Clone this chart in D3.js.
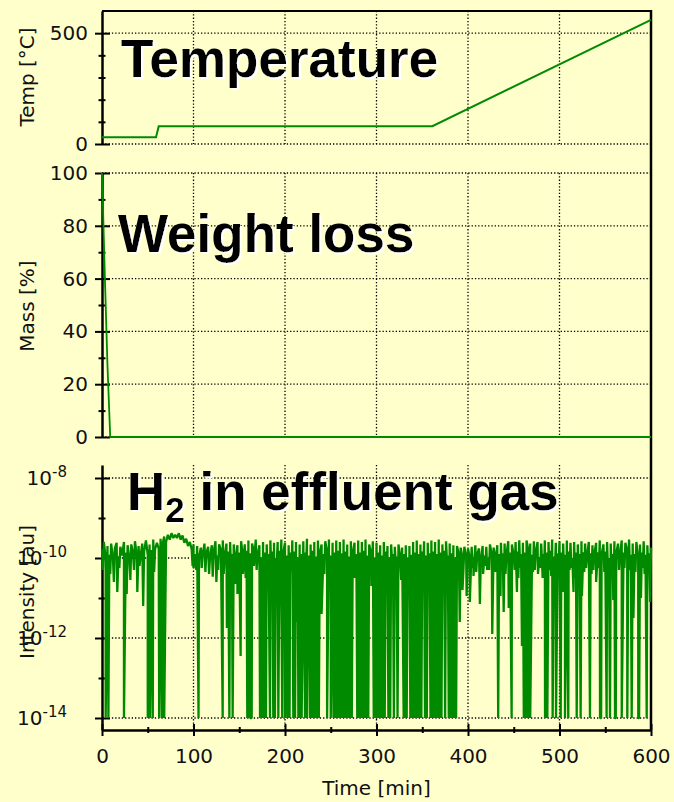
<!DOCTYPE html>
<html>
<head>
<meta charset="utf-8">
<script src="https://cdnjs.cloudflare.com/ajax/libs/d3/7.8.5/d3.min.js"></script>
<style>
  body { margin: 0; background: #ffffcc; }
  svg { display: block; font-family: "DejaVu Sans", sans-serif; }
  .grid line { stroke: #000; stroke-width: 1.3; stroke-dasharray: 1.3, 2; }
  .ax path { stroke: #000; stroke-width: 2.5; }
  .ax line { stroke: #000; stroke-width: 2; }
  .ax text { font-size: 20px; fill: #111; font-family: "DejaVu Sans", sans-serif; }
  .nodom path { display: none; }
  .lbl { font-size: 20px; fill: #111; }
  .title { font-family: "Liberation Sans", Arial, sans-serif; font-weight: bold; font-size: 53px; }
</style>
</head>
<body>
<div id="chart"></div>
<script>
// temperature program
var tempTime = [0, 59, 62, 361, 600];
var tempVal  = [30, 30, 80, 80, 560];

// weight loss
var massTime = [0, 1, 3, 6, 9, 600];
var massVal  = [100, 88, 62, 27, 0, 0];

// H2 signal, log10 of intensity, one value every 2 min from 0 to 600
var h2Base = [
 -9.78,-9.60,-9.98,-9.70,-9.92,-9.64,-10.02,-9.76,-9.62,-9.96,
 -9.72,-9.94,-9.60,-9.86,-9.68,-10.04,-9.66,-9.90,-9.58,-9.92,
 -9.70,-9.98,-9.64,-9.84,-9.56,-9.92,-9.66,-9.80,-9.54,-9.78,
 -9.62,-9.76,-9.52,-9.66,-9.46,-9.60,-9.42,-9.54,-9.38,-9.50,
 -9.42,-9.50,-9.38,-9.54,-9.44,-9.62,-9.52,-9.70,-9.60,-9.78,
 -9.66,-9.90,-9.70,-9.98,-9.74,-9.92,-9.64,-9.88,-9.72,-10.00,
 -9.68,-9.86,-9.58,-9.94,-9.66,-9.80,-9.56,-9.98,-9.64,-9.84,
 -9.60,-9.90,-9.66,-10.02,-9.68,-9.86,-9.58,-9.96,-9.66,-9.82,
 -9.56,-9.88,-9.64,-9.84,-9.54,-9.94,-9.68,-9.98,-9.60,-9.86,
 -9.66,-9.90,-9.56,-9.84,-9.62,-10.00,-9.60,-9.82,-9.54,-9.88,
 -9.62,-9.94,-9.68,-9.86,-9.56,-9.84,-9.60,-9.98,-9.66,-9.90,
 -9.58,-9.86,-9.52,-9.94,-9.66,-9.82,-9.60,-9.96,-9.56,-9.86,
 -9.66,-9.90,-9.58,-9.84,-9.54,-9.94,-9.62,-9.86,-9.56,-9.82,
 -9.60,-9.88,-9.54,-9.84,-9.66,-9.96,-9.58,-9.86,-9.62,-9.90,
 -9.56,-9.86,-9.60,-9.82,-9.54,-9.94,-9.66,-9.88,-9.58,-9.98,
 -9.62,-9.86,-9.68,-9.94,-9.60,-9.84,-9.70,-9.98,-9.66,-9.90,
 -9.72,-9.96,-9.66,-10.00,-9.74,-9.90,-9.68,-9.98,-9.70,-9.92,
 -9.60,-9.86,-9.56,-9.90,-9.66,-9.84,-9.58,-9.94,-9.62,-9.88,
 -9.56,-9.84,-9.60,-9.90,-9.54,-9.86,-9.66,-9.82,-9.58,-9.94,
 -9.64,-9.88,-9.68,-9.98,-9.70,-9.92,-9.74,-10.00,-9.72,-9.96,
 -9.76,-10.02,-9.72,-9.98,-9.68,-9.92,-9.76,-10.04,-9.70,-9.94,
 -9.72,-10.00,-9.66,-9.92,-9.74,-9.98,-9.68,-9.90,-9.62,-9.88,
 -9.64,-9.92,-9.58,-9.86,-9.66,-9.96,-9.60,-9.84,-9.56,-9.90,
 -9.62,-9.86,-9.56,-9.82,-9.64,-9.92,-9.58,-9.88,-9.60,-9.98,
 -9.64,-9.90,-9.56,-9.86,-9.60,-9.82,-9.54,-9.96,-9.62,-9.88,
 -9.58,-9.86,-9.64,-9.92,-9.56,-9.84,-9.62,-10.00,-9.60,-9.86,
 -9.66,-9.90,-9.58,-9.86,-9.64,-9.98,-9.60,-9.88,-9.68,-9.92,
 -9.62,-9.86,-9.56,-9.92,-9.66,-9.84,-9.60,-10.00,-9.64,-9.90,
 -9.58,-9.88,-9.64,-9.96,-9.56,-9.86,-9.62,-9.82,-9.54,-9.92,
 -9.64,-9.90,-9.60,-9.98,-9.66,-9.86,-9.58,-9.92,-9.68,-9.88,
 -9.74
];
// minutes where the signal falls to the 1e-14 floor
var h2Deep = [4, 7, 24, 50, 52.5, 55.5, 62.5, 65.5, 68, 105.5,
 131.9, 139.2, 142.8, 158.8, 160.5, 162, 163.6, 172.7, 175, 177, 179.2, 183.6, 187.2, 189, 192.7, 197,
 200, 202.6, 205, 209.1, 211, 214.6, 216, 218.2, 221.9, 224, 227.3, 229, 231, 233, 234.6, 237,
 246, 250, 253, 255, 257, 259, 261, 263, 265, 267, 269, 271, 273,
 279, 281, 283, 285, 287, 289, 291, 297, 299, 301, 303, 305, 307, 309,
 313, 315, 319, 323, 329.7, 331, 333, 337, 339, 341, 343, 345, 347, 349,
 353, 355, 359, 361, 363, 365, 367, 369, 371, 375, 379, 381, 383, 385, 387,
 433, 447.7, 461, 463.5, 466, 468,
 484.2, 486.7, 492.5, 496.2, 501.3, 506, 509.6, 518.8, 523.1, 533.3, 544.3, 545.5,
 551.5, 555.2, 560.7, 561.5, 568, 574.1, 578.9, 586.1, 587, 595.3];
// partial dips [minute, log10 intensity]
var h2Dips = [[13,-10.6],[16.7,-10.85],[27,-10.9],[31,-10.55],[38.6,-10.85],[45,-11.2],[100,-10.25],[117,-10.4],
 [121,-10.47],[125,-10.6],[136.5,-11.75],[145.5,-10.65],[148,-10.9],[151.5,-12.45],[154,-10.4],[166,-10.2],
 [176,-10.9],[190,-10.6],[196,-10.8],[205.5,-10.45],[212,-11.6],[225,-10.35],
 [240,-11.4],[243,-10.4],[248,-10.6],[276,-10.5],[294.5,-10.7],[311,-10.5],[317.5,-10.3],[321.5,-10.3],
 [327,-10.55],[335.7,-10.9],[351,-10.4],[357,-10.9],[373,-10.7],[377.5,-10.3],
 [391,-11.6],[394,-10.8],[398.5,-10.95],[402,-11.1],[406,-10.45],[413,-11.15],[416.5,-10.4],[421,-10.3],
 [426.5,-11.9],[430,-10.35],[435.5,-10.95],[439,-11.35],[444.5,-11.25],[453.5,-10.85],[459,-12.2],[471,-10.35],[476.5,-10.4],
 [481.6,-10.5],[503.5,-10.85],[515.3,-10.85],[524.5,-10.95],[540,-10.6],[558.8,-11.05],[580.8,-11.5],[589,-11.0],[599,-11.1],
 [1,-10.3],[9,-10.4],[19,-10.25],[35,-10.3],[41,-10.2],[57,-10.35],[99,-10.2],[103,-10.3],[109,-10.25],[113,-10.35],
 [127,-10.3],[133,-10.4],[141,-10.25],[149,-10.3],[157,-10.5],[169,-10.3],[181,-10.4],[185,-10.25],[195,-10.35],
 [207,-10.3],[217,-10.45],[223,-10.3],[395,-10.3],[405,-10.25],[409,-10.35],[419,-10.2],[423,-10.3],[437,-10.25],
 [441,-10.4],[451,-10.3],[455,-10.5],[457,-10.25],[473,-10.3],[479,-10.25],[483,-10.35],[489,-10.3],[491,-10.45],
 [495,-10.25],[499,-10.3],[505,-10.4],[511,-10.3],[513,-10.25],[517,-10.5],[521,-10.3],[527,-10.35],[529,-10.25],
 [535,-10.4],[537,-10.3],[543,-10.25],[549,-10.35],[553,-10.3],[557,-10.45],[565,-10.3],[571,-10.25],[575,-10.4],
 [577,-10.3],[583,-10.35],[591,-10.25],[593,-10.4],[597,-10.3]];

var timeTicks  = [0, 100, 200, 300, 400, 500, 600];
var timeMinor  = [50, 150, 250, 350, 450, 550];
var tempTicks  = [0, 500];
var tempMinor  = [100, 200, 300, 400];
var massTicks  = [0, 20, 40, 60, 80, 100];
var massMinor  = [10, 30, 50, 70, 90];
var h2Ticks    = [-14, -12, -10, -8];
var h2Minor    = [-13, -11, -9];

var W = 674, H = 802, X0 = 102, X1 = 651, green = "#008a00";

var svg = d3.select("#chart").append("svg").attr("width", W).attr("height", H);

var defs = svg.append("defs");
defs.append("filter").attr("id", "shadow").attr("x", "-5%").attr("y", "-10%").attr("width", "115%").attr("height", "130%")
  .append("feDropShadow").attr("dx", 2).attr("dy", 2).attr("stdDeviation", 0.6)
  .attr("flood-color", "#fff").attr("flood-opacity", 1);

var x  = d3.scaleLinear().domain([0, 600]).range([X0, X1]);
var yT = d3.scaleLinear().domain([0, 600]).range([144, 11]);
var yM = d3.scaleLinear().domain([0, 100]).range([437, 173]);
var yH = d3.scaleLog().domain([Math.pow(10, -14.3), Math.pow(10, -7.675)]).range([730, 465]);

function pow10(e) { return Math.pow(10, e); }

// grid lines
function grid(yScale, yVals, top, bottom) {
  var g = svg.append("g").attr("class", "grid");
  g.selectAll(".h").data(yVals).enter().append("line")
    .attr("x1", X0).attr("x2", X1).attr("y1", yScale).attr("y2", yScale);
  g.selectAll(".v").data([100, 200, 300, 400, 500]).enter().append("line")
    .attr("x1", x).attr("x2", x).attr("y1", top).attr("y2", bottom);
}
grid(yT, tempTicks, 11, 144);
grid(yM, massTicks, 173, 437);
grid(yH, h2Ticks.map(pow10), 465, 730);

// left axes with ticks crossing the axis line
function yAxis(scale, major, minor, fmt, pad) {
  var l = svg.append("g").attr("class", "ax").attr("transform", "translate(" + X0 + ",0)")
    .call(d3.axisLeft(scale).tickValues(major).tickSize(7).tickSizeOuter(0).tickPadding(pad).tickFormat(fmt));
  svg.append("g").attr("class", "ax nodom").attr("transform", "translate(" + X0 + ",0)")
    .call(d3.axisRight(scale).tickValues(major).tickSize(8).tickFormat(""));
  svg.append("g").attr("class", "ax nodom").attr("transform", "translate(" + X0 + ",0)")
    .call(d3.axisLeft(scale).tickValues(minor).tickSize(3.5).tickFormat(""));
  svg.append("g").attr("class", "ax nodom").attr("transform", "translate(" + X0 + ",0)")
    .call(d3.axisRight(scale).tickValues(minor).tickSize(3.5).tickFormat(""));
  return l;
}
yAxis(yT, tempTicks, tempMinor, d3.format("d"), 7);
yAxis(yM, massTicks, massMinor, d3.format("d"), 7);
var la = yAxis(yH, h2Ticks.map(pow10), h2Minor.map(pow10), function () { return ""; }, 28);
la.selectAll(".tick text").each(function (d) {
  var t = d3.select(this);
  t.append("tspan").text("10");
  t.append("tspan").attr("dy", "-0.5em").style("font-size", "15px").text(Math.round(Math.log10(d)));
});

// top and right frame
svg.append("line").attr("x1", X0).attr("x2", X1).attr("y1", 11).attr("y2", 11)
  .attr("stroke", "#000").attr("stroke-width", 2);
svg.append("line").attr("x1", X1).attr("x2", X1).attr("y1", 10).attr("y2", 730)
  .attr("stroke", "#000").attr("stroke-width", 2.5);

// bottom time axis
svg.append("g").attr("class", "ax").attr("transform", "translate(0,730)")
  .call(d3.axisBottom(x).tickValues(timeTicks).tickSize(6).tickSizeOuter(0).tickPadding(13).tickFormat(d3.format("d")));
svg.append("g").attr("class", "ax nodom").attr("transform", "translate(0,730)")
  .call(d3.axisTop(x).tickValues(timeTicks).tickSize(6).tickFormat(""));
svg.append("g").attr("class", "ax nodom").attr("transform", "translate(0,730)")
  .call(d3.axisBottom(x).tickValues(timeMinor).tickSize(3).tickFormat(""));
svg.append("g").attr("class", "ax nodom").attr("transform", "translate(0,730)")
  .call(d3.axisTop(x).tickValues(timeMinor).tickSize(3).tickFormat(""));

// data lines
var tempLine = d3.line().x(function (d) { return x(d[0]); }).y(function (d) { return yT(d[1]); });
svg.append("path").datum(d3.zip(tempTime, tempVal)).attr("d", tempLine)
  .attr("fill", "none").attr("stroke", green).attr("stroke-width", 2);

var massLine = d3.line().x(function (d) { return x(d[0]); }).y(function (d) { return yM(d[1]); });
svg.append("path").datum(d3.zip(massTime, massVal)).attr("d", massLine)
  .attr("fill", "none").attr("stroke", green).attr("stroke-width", 1.8);

var h2 = h2Base.map(function (v, i) { return [i * 2, v]; })
  .concat(h2Deep.map(function (t) { return [t, -14]; }))
  .concat(h2Dips);
h2.sort(function (a, b) { return a[0] - b[0]; });
var h2Line = d3.line().x(function (d) { return x(d[0]); }).y(function (d) { return yH(pow10(d[1])); });
svg.append("path").datum(h2).attr("d", h2Line)
  .attr("fill", "none").attr("stroke", green).attr("stroke-width", 2.3).attr("stroke-linejoin", "bevel");

// axis titles
svg.append("text").attr("class", "lbl").attr("text-anchor", "middle")
  .attr("transform", "translate(34,77) rotate(-90)").text("Temp [°C]");
svg.append("text").attr("class", "lbl").attr("text-anchor", "middle")
  .attr("transform", "translate(34,306) rotate(-90)").text("Mass [%]");
svg.append("text").attr("class", "lbl").attr("text-anchor", "middle")
  .attr("transform", "translate(34,592) rotate(-90)").text("Intensity [au]");
svg.append("text").attr("class", "lbl").attr("text-anchor", "middle")
  .attr("x", (X0 + X1) / 2).attr("y", 795).text("Time [min]");

// panel titles with white drop shadow
function title(xp, yp) {
  return svg.append("text").attr("class", "title").attr("x", xp).attr("y", yp)
    .attr("fill", "#000").attr("filter", "url(#shadow)");
}
title(121, 77).text("Temperature");
title(118, 252).text("Weight loss");
var h2t = title(127, 510);
h2t.append("tspan").text("H");
h2t.append("tspan").attr("dy", 12).style("font-size", "35px").text("2");
h2t.append("tspan").attr("dy", -12).text(" in effluent gas");
</script>
</body>
</html>
